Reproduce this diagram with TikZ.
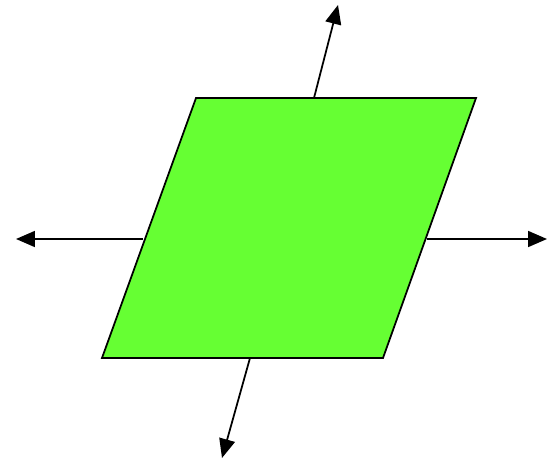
\documentclass[tikz,border=0pt]{standalone}
\usepackage{tikz}
\usetikzlibrary{arrows.meta}
\definecolor{lawn}{HTML}{66FF33}
\tikzset{
    face/.style={draw=black, line width=1pt, fill=lawn, line join=miter},
    normal/.style={line width=1pt, -{Triangle[length=0.38cm, width=0.32cm]}}
}
\begin{document}
\begin{tikzpicture}[x=0.02cm, y=-0.02cm]

    % Frame
    \useasboundingbox (0,0) rectangle (548,463);

    % Corners of the parallelogram
    \coordinate (tl) at (196,98);
    \coordinate (tr) at (476,98);
    \coordinate (br) at (383,358);
    \coordinate (bl) at (102,358);

    % Parallelogram
    \draw[face] (tl) -- (tr) -- (br) -- (bl) -- cycle;

    % Arrow feet on the edges
    \coordinate (top) at (314,98);
    \coordinate (bot) at (250,358);
    \coordinate (lft) at (143,239);
    \coordinate (rgt) at (427,239);

    % Arrow tips
    \coordinate (topend) at (338,5);
    \coordinate (botend) at (222,458);
    \coordinate (lftend) at (16,239);
    \coordinate (rgtend) at (547,239);

    % Arrows
    \draw[normal] (top) -- (topend);
    \draw[normal] (bot) -- (botend);
    \draw[normal] (lft) -- (lftend);
    \draw[normal] (rgt) -- (rgtend);

\end{tikzpicture}
\end{document}
